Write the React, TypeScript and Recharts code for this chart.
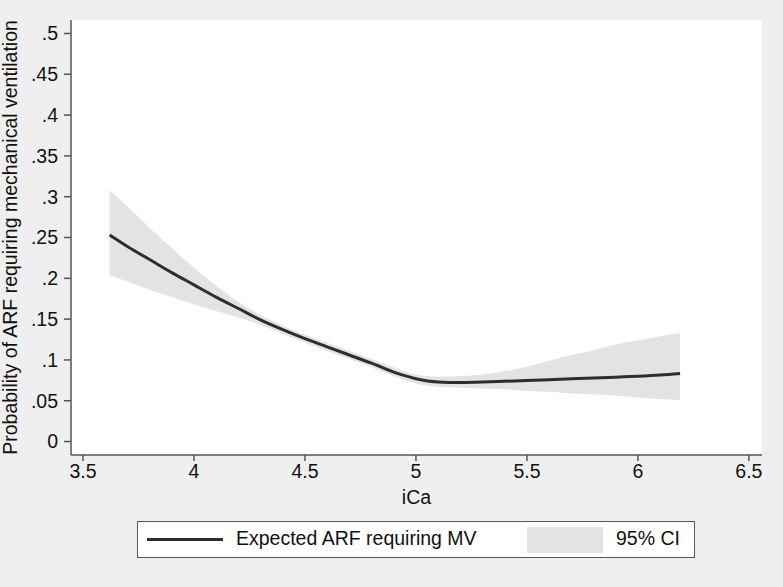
import React from "react"
import {
  ComposedChart,
  Area,
  Line,
  XAxis,
  YAxis,
  CartesianGrid
} from "recharts"

// iCa values along the fitted curve
const ica = [
  3.62, 3.7, 3.8, 3.9, 4.0, 4.1, 4.2, 4.3, 4.4, 4.5, 4.6, 4.7, 4.8, 4.9,
  5.0, 5.1, 5.2, 5.3, 5.4, 5.5, 5.6, 5.7, 5.8, 5.9, 6.0, 6.1, 6.19
]

// expected probability of ARF requiring MV
const expected = [
  0.253, 0.239, 0.223, 0.207, 0.192, 0.177, 0.163, 0.149, 0.137, 0.126, 0.116,
  0.106, 0.096, 0.085, 0.077, 0.073, 0.0723, 0.0728, 0.0738, 0.0748, 0.0758,
  0.0768, 0.0778, 0.0789, 0.08, 0.0815, 0.0835
]

// 95% CI bounds
const ciUpper = [
  0.308, 0.288, 0.262, 0.237, 0.213, 0.191, 0.171, 0.155, 0.142, 0.131, 0.121,
  0.111, 0.101, 0.091, 0.082, 0.0795, 0.08, 0.082, 0.086, 0.092, 0.099, 0.106,
  0.112, 0.119, 0.124, 0.129, 0.133
]
const ciLower = [
  0.204, 0.196, 0.186, 0.177, 0.168, 0.16, 0.152, 0.143, 0.132, 0.121, 0.111,
  0.101, 0.091, 0.08, 0.071, 0.067, 0.066, 0.065, 0.064, 0.062, 0.061, 0.059,
  0.058, 0.056, 0.054, 0.052, 0.051
]

const xTicks = [3.5, 4, 4.5, 5, 5.5, 6, 6.5]
const xTickLabels = ["3.5", "4", "4.5", "5", "5.5", "6", "6.5"]
const yTicks = [0, 0.05, 0.1, 0.15, 0.2, 0.25, 0.3, 0.35, 0.4, 0.45, 0.5]
const yTickLabels = ["0", ".05", ".1", ".15", ".2", ".25", ".3", ".35", ".4", ".45", ".5"]

const data = ica.map((x, i) => ({
  x,
  fit: expected[i],
  ci: [ciLower[i], ciUpper[i]]
}))

const FONT = "'Liberation Sans', Arial, Helvetica, sans-serif"
const FS = 19.5
const BG = "#efefef"
const AXIS = "#555"

const YLabel = (props: any) => {
  const vb = props.viewBox
  const cy = vb.y + vb.height / 2
  return (
    <text
      x={0}
      y={0}
      transform={`translate(17, ${cy}) rotate(-90)`}
      textAnchor="middle"
      fontSize={FS}
      fill="#111"
      fontFamily={FONT}
    >
      Probability of ARF requiring mechanical ventilation
    </text>
  )
}

const XLabel = (props: any) => {
  const vb = props.viewBox
  return (
    <text
      x={vb.x + vb.width / 2}
      y={504}
      textAnchor="middle"
      fontSize={FS}
      fill="#111"
      fontFamily={FONT}
    >
      iCa
    </text>
  )
}

export default function App() {
  return (
    <div
      style={{
        position: "absolute",
        left: 0,
        top: 0,
        width: 783,
        height: 587,
        background: BG,
        fontFamily: FONT
      }}
    >
      <ComposedChart
        width={783}
        height={587}
        data={data}
        margin={{ top: 20, right: 21, left: 0, bottom: 0 }}
      >
        <rect x={71} y={20} width={691} height={435} fill="#fff" />
        <CartesianGrid
          horizontal
          vertical={false}
          stroke="#e9e9e9"
          strokeWidth={1.2}
          horizontalValues={yTicks}
        />
        <XAxis
          dataKey="x"
          type="number"
          domain={[3.446, 6.559]}
          ticks={xTicks}
          tickFormatter={(v: number) => xTickLabels[xTicks.indexOf(v)] ?? String(v)}
          height={132}
          allowDataOverflow
          stroke={AXIS}
          strokeWidth={1.5}
          tickSize={6}
          tickMargin={3}
          tick={{ fontSize: FS, fill: "#111", fontFamily: FONT }}
          label={<XLabel />}
        />
        <YAxis
          type="number"
          domain={[-0.0165, 0.5165]}
          ticks={yTicks}
          tickFormatter={(v: number) => yTickLabels[yTicks.indexOf(v)] ?? String(v)}
          width={71}
          allowDataOverflow
          stroke={AXIS}
          strokeWidth={1.5}
          tickSize={7}
          tickMargin={6}
          tick={{ fontSize: FS, fill: "#111", fontFamily: FONT }}
          label={<YLabel />}
        />
        <Area
          dataKey="ci"
          type="monotone"
          stroke="none"
          fill="#e3e3e3"
          fillOpacity={1}
          isAnimationActive={false}
        />
        <Line
          dataKey="fit"
          type="monotone"
          stroke="#2e2e2e"
          strokeWidth={3}
          dot={false}
          isAnimationActive={false}
        />
      </ComposedChart>
      <div
        style={{
          position: "absolute",
          left: 137,
          top: 521,
          width: 556,
          height: 35,
          background: "#fff",
          border: "1px solid #555",
          fontSize: FS,
          color: "#111"
        }}
      >
        <div
          style={{
            position: "absolute",
            left: 9,
            top: 16,
            width: 76,
            height: 3,
            background: "#2e2e2e"
          }}
        />
        <div style={{ position: "absolute", left: 98, top: 5 }}>
          Expected ARF requiring MV
        </div>
        <div
          style={{
            position: "absolute",
            left: 389,
            top: 5,
            width: 76,
            height: 26,
            background: "#e3e3e3"
          }}
        />
        <div style={{ position: "absolute", left: 478, top: 5 }}>95% CI</div>
      </div>
    </div>
  )
}
